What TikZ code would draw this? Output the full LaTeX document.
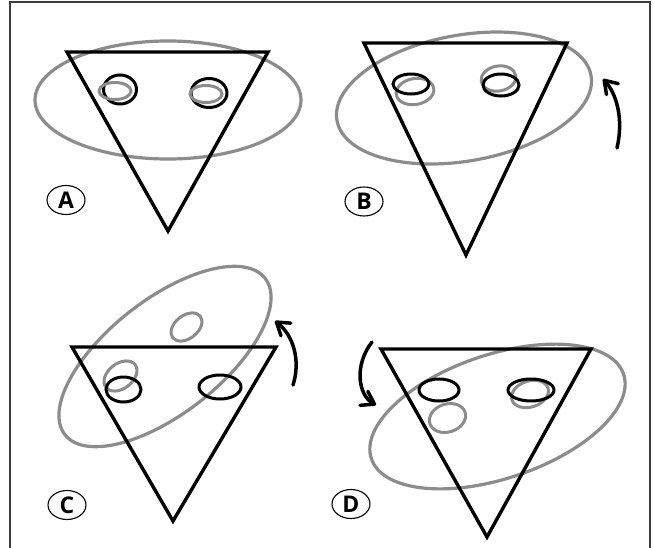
\documentclass[tikz,border=0pt]{standalone}
\usepackage{fontspec}
\newfontfamily\lblfont{Open Sans}
\usetikzlibrary{shapes.geometric,arrows.meta}
\definecolor{ringgray}{RGB}{140,140,140}
\definecolor{framegray}{RGB}{60,60,60}
\begin{document}
\begin{tikzpicture}[x=1pt,y=-1pt,
  tri/.style={draw=black, line width=3.4pt, line join=miter},
  face/.style={draw=ringgray, line width=3.2pt},
  eyeblk/.style={draw=black, line width=3pt},
  eyegry/.style={draw=ringgray, line width=3pt},
  turn/.style={draw=black, line width=3.5pt, line cap=round, -{Straight Barb[length=12pt,width=16pt,round]}},
  lbl/.style={draw, ellipse, line width=1.1pt, minimum width=38pt, minimum height=29pt, inner sep=0pt, font=\lblfont\bfseries\fontsize{23}{23}\selectfont},
  frame/.style={draw=framegray, line width=1.5pt}
]
\useasboundingbox (0,0) rectangle (654,547);
\draw[frame] (10,548) -- (10,2) -- (650,2) -- (650,548);

% ---------- Panel A ----------
\draw[face] (168,100) ellipse [x radius=133pt, y radius=59pt];
\draw[tri] (67,52) -- (268,52) -- (168,231) -- cycle;
\draw[eyeblk] (120,89.5) ellipse [x radius=16.5pt, y radius=14.5pt];
\draw[eyeblk] (209,93) ellipse [x radius=18pt, y radius=14.5pt];
\draw[eyegry] (115,91) ellipse [x radius=16pt, y radius=8.5pt];
\draw[eyegry] (206,94) ellipse [x radius=16pt, y radius=8.5pt];
\node[lbl] (lblA) at (66,200) {A};

% ---------- Panel B ----------
\draw[face, rotate around={10:(464,98)}] (464,98) ellipse [x radius=129pt, y radius=63pt];
\draw[eyegry, rotate around={10:(415,91.5)}] (415,91.5) ellipse [x radius=19pt, y radius=13pt];
\draw[eyegry, rotate around={10:(498.5,78.5)}] (498.5,78.5) ellipse [x radius=17.5pt, y radius=12.5pt];
\draw[tri] (364,43) -- (567,43) -- (466,255) -- cycle;
\draw[eyeblk] (411,84) ellipse [x radius=18pt, y radius=10pt];
\draw[eyeblk] (501,85) ellipse [x radius=18pt, y radius=11pt];
\draw[turn] (617,148) .. controls (624,118) and (616,93) .. (603,79);
\node[lbl] (lblB) at (364,201.5) {B};

% ---------- Panel C ----------
\draw[face, rotate around={38:(165,356.5)}] (165,356.5) ellipse [x radius=127pt, y radius=57pt];
\draw[eyegry, rotate around={38:(186.5,327)}] (186.5,327) ellipse [x radius=17.5pt, y radius=11.5pt];
\draw[eyegry, rotate around={38:(120.5,376)}] (120.5,376) ellipse [x radius=18.5pt, y radius=12.5pt];
\draw[tri] (72,347) -- (276,347) -- (173,521) -- cycle;
\draw[eyeblk] (123.5,389.5) ellipse [x radius=17.5pt, y radius=12.5pt];
\draw[eyeblk] (220,387) ellipse [x radius=21pt, y radius=12pt];
\draw[turn] (293,385) .. controls (301,360) and (293,335) .. (275,321);
\node[lbl] (lblC) at (67,505) {C};

% ---------- Panel D ----------
\draw[face, rotate around={18.5:(497.5,416.5)}] (497.5,416.5) ellipse [x radius=133pt, y radius=62pt];
\draw[eyegry, rotate around={18:(447.5,418)}] (447.5,418) ellipse [x radius=18.5pt, y radius=14pt];
\draw[eyegry, rotate around={18:(530,394)}] (530,394) ellipse [x radius=19pt, y radius=13pt];
\draw[tri] (381,349) -- (591,349) -- (487,537) -- cycle;
\draw[eyeblk] (439,390) ellipse [x radius=20pt, y radius=11pt];
\draw[eyeblk] (531,390) ellipse [x radius=23pt, y radius=11pt];
\draw[turn] (372,342) .. controls (354,365) and (358,395) .. (376,405);
\node[lbl] (lblD) at (351,504) {D};
\end{tikzpicture}
\end{document}
